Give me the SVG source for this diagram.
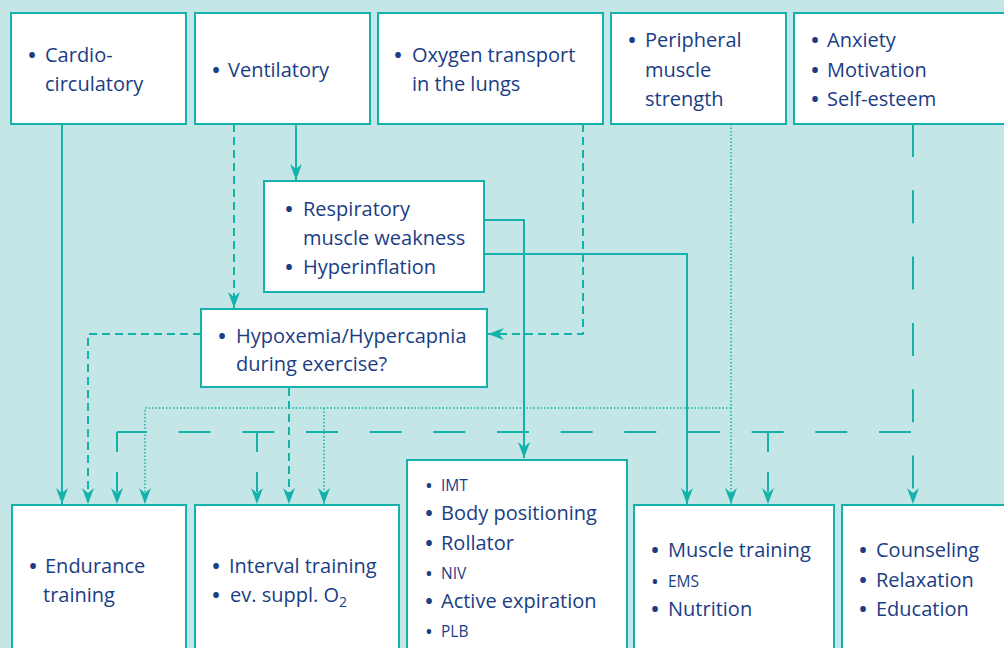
<svg xmlns="http://www.w3.org/2000/svg" width="1004" height="648" viewBox="0 0 1004 648">
<style>
.box{fill:#ffffff;stroke:#15b2ac;stroke-width:2}
.t{font-family:"Open Sans","Noto Sans",sans-serif;font-size:20px;fill:#1b3d84}
.s{font-size:15.5px}
.b{text-anchor:middle;font-weight:bold}
.ln{fill:none;stroke:#15b2ac;stroke-width:2}
.sd{stroke-dasharray:8 5}
.dt{stroke-width:1.5;stroke-dasharray:1.5 2}
.ld{stroke-dasharray:32 31.67}
.vd{stroke-dasharray:20 20}
.vl{stroke-dasharray:33 33.3}
</style>
<defs>
<marker id="ah" markerUnits="userSpaceOnUse" viewBox="0 0 16 12" markerWidth="16" markerHeight="12" refX="16" refY="6" orient="auto">
<path d="M0,0 L16,6 L0,12 L5,6 Z" fill="#15b2ac"/>
</marker>
</defs>
<rect x="0" y="0" width="1004" height="648" fill="#c5e6e6"/>

<g id="connectors">
<path class="ln" d="M62,124 V504" marker-end="url(#ah)"/>
<path class="ln sd" d="M234,124 V308" marker-end="url(#ah)"/>
<path class="ln" d="M296,124 V180" marker-end="url(#ah)"/>
<path class="ln sd" d="M583,124 V334 H488" marker-end="url(#ah)"/>
<path class="ln" d="M484,220 H524 V458" marker-end="url(#ah)"/>
<path class="ln" d="M484,254 H687 V504" marker-end="url(#ah)"/>
<path class="ln sd" d="M201,334 H88 V504" marker-end="url(#ah)"/>
<path class="ln sd" d="M289,388 V504" marker-end="url(#ah)"/>
<path class="ln dt" d="M731,124 V504" marker-end="url(#ah)"/>
<path class="ln dt" d="M731,408 H145 V504" marker-end="url(#ah)"/>
<path class="ln dt" d="M324,408 V504" marker-end="url(#ah)"/>
<path class="ln vl" d="M913,124 V504" marker-end="url(#ah)"/>
<path class="ln ld" d="M911,432 H117"/>
<path class="ln vd" d="M117,432 V504" marker-end="url(#ah)"/>
<path class="ln vd" d="M257,432 V504" marker-end="url(#ah)"/>
<path class="ln vd" d="M768,432 V504" marker-end="url(#ah)"/>
</g>

<g id="cardio">
<rect class="box" x="11" y="13" width="175" height="111"/>
<text class="t b" x="32" y="62">•</text>
<text class="t" x="45" y="62">Cardio-</text>
<text class="t" x="45" y="91">circulatory</text>
</g>
<g id="ventilatory">
<rect class="box" x="195" y="13" width="175" height="111"/>
<text class="t b" x="216" y="77">•</text>
<text class="t" x="228" y="77">Ventilatory</text>
</g>
<g id="oxygen">
<rect class="box" x="378" y="13" width="225" height="111"/>
<text class="t b" x="398" y="62">•</text>
<text class="t" x="412" y="62">Oxygen transport</text>
<text class="t" x="412" y="91">in the lungs</text>
</g>
<g id="peripheral">
<rect class="box" x="611" y="13" width="175" height="111"/>
<text class="t b" x="632" y="47">•</text>
<text class="t" x="645" y="47">Peripheral</text>
<text class="t" x="645" y="77">muscle</text>
<text class="t" x="645" y="106">strength</text>
</g>
<g id="psych">
<rect class="box" x="794" y="13" width="220" height="111"/>
<text class="t b" x="815" y="47">•</text>
<text class="t" x="827" y="47">Anxiety</text>
<text class="t b" x="815" y="77">•</text>
<text class="t" x="827" y="77">Motivation</text>
<text class="t b" x="815" y="106">•</text>
<text class="t" x="827" y="106">Self-esteem</text>
</g>
<g id="respiratory">
<rect class="box" x="264" y="181" width="220" height="111"/>
<text class="t b" x="289" y="216">•</text>
<text class="t" x="303" y="216">Respiratory</text>
<text class="t" x="303" y="245">muscle weakness</text>
<text class="t b" x="289" y="274">•</text>
<text class="t" x="303" y="274">Hyperinflation</text>
</g>
<g id="hypoxemia">
<rect class="box" x="201" y="309" width="286" height="78"/>
<text class="t b" x="222" y="343">•</text>
<text class="t" x="236" y="343">Hypoxemia/Hypercapnia</text>
<text class="t" x="236" y="371">during exercise?</text>
</g>
<g id="endurance">
<rect class="box" x="12" y="505" width="174" height="200"/>
<text class="t b" x="33" y="573">•</text>
<text class="t" x="45" y="573">Endurance</text>
<text class="t" x="43" y="602">training</text>
</g>
<g id="interval">
<rect class="box" x="195" y="505" width="204" height="200"/>
<text class="t b" x="216" y="573">•</text>
<text class="t" x="229" y="573">Interval training</text>
<text class="t b" x="216" y="602">•</text>
<text class="t" x="230" y="602">ev. suppl. O<tspan font-size="14" dy="5">2</tspan></text>
</g>
<g id="breathing">
<rect class="box" x="407" y="460" width="220" height="240"/>
<text class="t s b" x="429" y="491">•</text>
<text class="t s" x="441" y="491">IMT</text>
<text class="t b" x="429" y="520">•</text>
<text class="t" x="441" y="520">Body positioning</text>
<text class="t b" x="429" y="550">•</text>
<text class="t" x="441" y="550">Rollator</text>
<text class="t s b" x="429" y="579">•</text>
<text class="t s" x="441" y="579">NIV</text>
<text class="t b" x="429" y="608">•</text>
<text class="t" x="441" y="608">Active expiration</text>
<text class="t s b" x="429" y="637">•</text>
<text class="t s" x="441" y="637">PLB</text>
</g>
<g id="muscle">
<rect class="box" x="634" y="505" width="200" height="200"/>
<text class="t b" x="655" y="557">•</text>
<text class="t" x="668" y="557">Muscle training</text>
<text class="t s b" x="655" y="587">•</text>
<text class="t s" x="668" y="587">EMS</text>
<text class="t b" x="655" y="616">•</text>
<text class="t" x="668" y="616">Nutrition</text>
</g>
<g id="counseling">
<rect class="box" x="842" y="505" width="200" height="200"/>
<text class="t b" x="863" y="557">•</text>
<text class="t" x="876" y="557">Counseling</text>
<text class="t b" x="863" y="587">•</text>
<text class="t" x="876" y="587">Relaxation</text>
<text class="t b" x="863" y="616">•</text>
<text class="t" x="876" y="616">Education</text>
</g>
</svg>
